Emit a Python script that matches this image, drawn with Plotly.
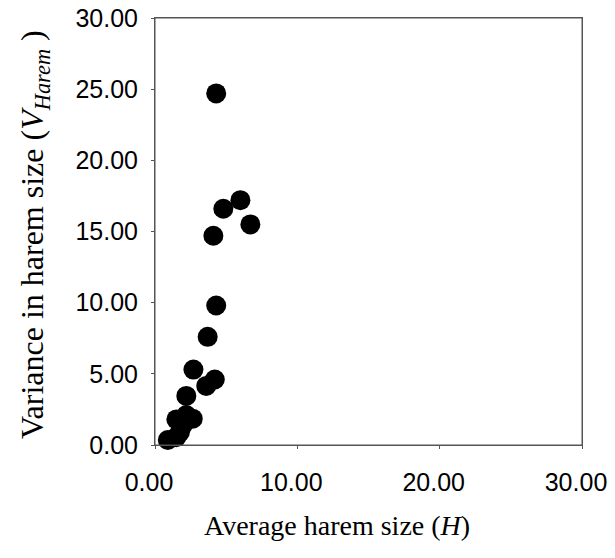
import plotly.graph_objects as go

avg_harem_size = [4.3, 6.0, 4.8, 6.7, 4.1, 4.3, 3.7, 2.7, 4.2, 3.6, 2.2,
                  2.65, 2.2, 1.5, 1.95, 1.75, 1.5, 0.9]
var_harem_size = [24.7, 17.2, 16.6, 15.5, 14.7, 9.8, 7.6, 5.3, 4.6, 4.15, 3.45,
                  1.85, 2.1, 1.8, 1.4, 0.9, 0.55, 0.35]
tick_vals = [0, 10, 20, 30]
ytick_vals = [0, 5, 10, 15, 20, 25, 30]

fig = go.Figure()
fig.add_trace(go.Scatter(
    x=avg_harem_size, y=var_harem_size, mode="markers",
    marker=dict(color="black", size=20, line=dict(width=0)),
    showlegend=False, cliponaxis=False))

axis_common = dict(showgrid=False, zeroline=False, showline=True,
                   linecolor="#555", linewidth=1, mirror=True,
                   ticks="outside", ticklen=3, tickcolor="#555",
                   tickformat=".2f", automargin=False, ticklabeloverflow="allow",
                   tickfont=dict(family="Liberation Sans, Arial", size=25, color="black"))

fig.update_xaxes(range=[0, 30], tickvals=tick_vals, ticklabelstandoff=12,
                 ticklabelshift=-6, **axis_common)
fig.update_yaxes(range=[0, 30], tickvals=ytick_vals, ticklabelstandoff=8, **axis_common)

# plot-area frame
fig.add_shape(type="rect", xref="paper", yref="paper", x0=0, y0=0, x1=1, y1=1,
              line=dict(color="#555", width=1), layer="above")

fig.add_annotation(
    text="Average harem size (<i>H</i>)", xref="paper", yref="paper",
    x=(337 - 155) / 427, y=-(525 - 445) / 427, showarrow=False,
    font=dict(family="Liberation Serif, Times New Roman", size=28, color="black"),
    xanchor="center", yanchor="middle")
fig.add_annotation(
    text="Variance in harem size (<i>V</i><sub><i>Harem</i></sub> )", xref="paper", yref="paper",
    x=-(155 - 34) / 427, y=(445 - 235) / 427, showarrow=False, textangle=-90,
    font=dict(family="Liberation Serif, Times New Roman", size=32, color="black"),
    xanchor="center", yanchor="middle")

fig.update_layout(
    width=615, height=558,
    margin=dict(l=155, r=33, t=18, b=113),
    paper_bgcolor="white", plot_bgcolor="white")

fig.write_html("out.html", config={"displayModeBar": False},
               post_script="document.body.style.margin='0';document.body.style.overflow='hidden';")
